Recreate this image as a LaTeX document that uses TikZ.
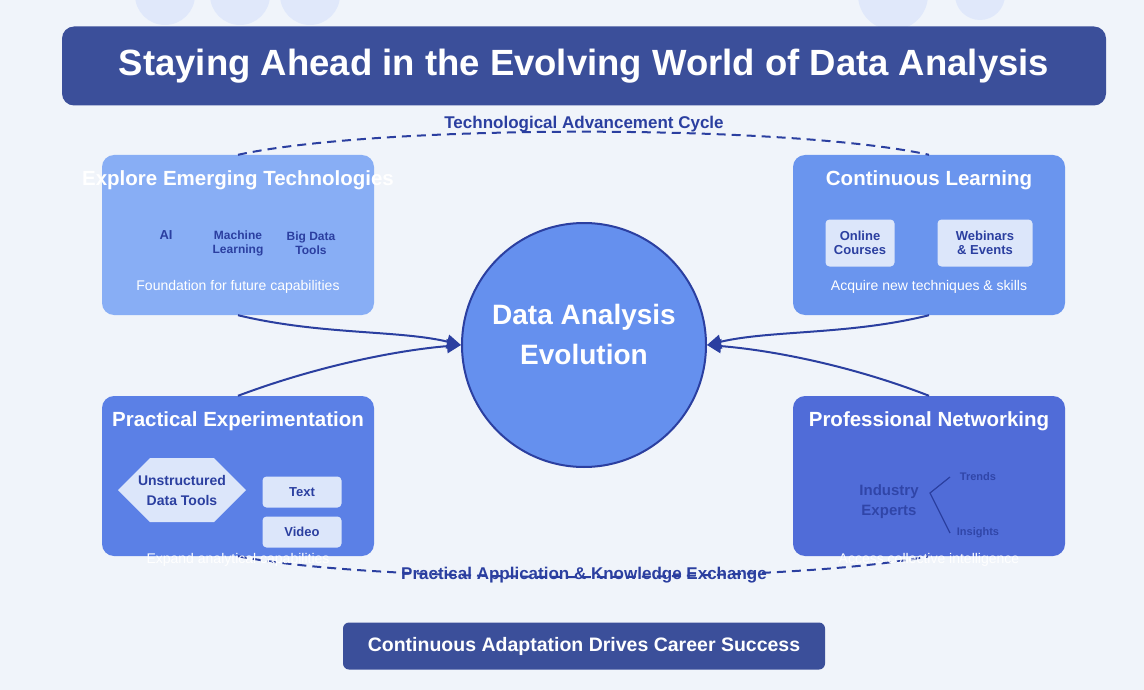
\documentclass[tikz,border=0pt]{standalone}
\usepackage{fontspec}
\setmainfont{Liberation Sans}
\usetikzlibrary{arrows.meta, positioning, shapes.geometric}
\definecolor{pagebg}{HTML}{F0F4FA}
\definecolor{navy}{HTML}{3B4F9A}
\definecolor{ink}{HTML}{2B3FA0}
\definecolor{pale}{HTML}{DCE6FA}
\definecolor{boxa}{HTML}{88AEF5}
\definecolor{boxb}{HTML}{6A95EE}
\definecolor{boxc}{HTML}{5B80E6}
\definecolor{boxd}{HTML}{506CD8}
\definecolor{core}{HTML}{6590EE}
\tikzset{
  panel/.style={rounded corners=12pt, minimum width=272pt, minimum height=160pt, inner sep=0pt},
  head/.style={text=white, font=\bfseries\fontsize{20.5}{24}\selectfont},
  foot/.style={text=white, font=\fontsize{14}{16}\selectfont},
  item/.style={text=ink, font=\bfseries\fontsize{13}{15}\selectfont, align=center},
  chip/.style={item, fill=pale, rounded corners=4pt, inner sep=0pt},
  flow/.style={draw=ink, line width=2pt, -{Triangle[length=14pt, width=14pt]}},
  cycle/.style={draw=ink, line width=2pt, dashed, dash pattern=on 9pt off 6pt}
}
\begin{document}
\begin{tikzpicture}[x=1pt, y=-1pt]
\fill[pagebg] (0,0) rectangle (1144,690);
\useasboundingbox (0,0) rectangle (1144,690);
% decorative bubbles
\foreach \cx/\r in {165/30, 240/30, 310/30, 893/35, 980/25}
  \fill[pale, opacity=0.8] (\cx,-5) circle (\r);
% title
\node[fill=navy, rounded corners=12pt, minimum width=1044pt, minimum height=79pt,
      text=white, font=\bfseries\fontsize{36.5}{42}\selectfont] (title) at (584,66)
  {Staying Ahead in the Evolving World of Data Analysis};
% panels
\node[panel, fill=boxa] (tech) at (238,235) {};
\node[panel, fill=boxb] (learn) at (929,235) {};
\node[panel, fill=boxc] (exper) at (238,476) {};
\node[panel, fill=boxd] (net) at (929,476) {};
% cycles
\draw[cycle] (tech.north) .. controls (380,124) and (788,124) .. (learn.north);
\node[text=ink, font=\bfseries\fontsize{17}{20}\selectfont] (toplbl) at (584,124) {Technological Advancement Cycle};
\draw[cycle] (exper.south) .. controls (380,584) and (788,584) .. (net.south);
% explore
\node[head] (techhd) at (238,180) {Explore Emerging Technologies};
\node[item] (ai) at (166,235) {AI};
\node[item, font=\bfseries\fontsize{12}{15}\selectfont] (ml) at (238,243) {Machine\\[-1pt]Learning};
\node[item, font=\bfseries\fontsize{12}{15}\selectfont] (bd) at (311,243) {Big Data\\[-1pt]Tools};
\node[foot] (techft) at (238,287) {Foundation for future capabilities};
% learning
\node[head] (learnhd) at (929,180) {Continuous Learning};
\node[chip, minimum width=69pt, minimum height=47pt] (online) at (860,243) {Online\\[-1pt]Courses};
\node[chip, minimum width=95pt, minimum height=47pt] (webin) at (985,243) {Webinars\\[-1pt]\& Events};
\node[foot] (learnft) at (929,287) {Acquire new techniques \& skills};
% experimentation
\node[head] (experhd) at (238,421) {Practical Experimentation};
\fill[pale] (118,490) -- (150,458) -- (214,458) -- (246,490) -- (214,522) -- (150,522) -- cycle;
\node[item, font=\bfseries\fontsize{14}{20}\selectfont] (hex) at (182,490) {Unstructured\\Data Tools};
\node[chip, minimum width=79pt, minimum height=31pt] (txt) at (302,492) {Text};
\node[chip, minimum width=79pt, minimum height=31pt] (vid) at (302,532) {Video};
\node[foot] (experft) at (238,560) {Expand analytical capabilities};
% networking
\node[head] (nethd) at (929,421) {Professional Networking};
\node[text=ink, font=\bfseries\fontsize{15}{20}\selectfont, align=center, opacity=0.85] (experts) at (889,502) {Industry\\Experts};
\coordinate (fork) at (930,493);
\node[text=ink, font=\bfseries\fontsize{11}{12}\selectfont, opacity=0.85] (trends) at (978,477) {Trends};
\node[text=ink, font=\bfseries\fontsize{11}{12}\selectfont, opacity=0.85] (insig) at (978,533) {Insights};
\draw[ink, line width=1.2pt] (950,477) -- (fork) -- (950,533);
\node[foot] (netft) at (929,560) {Access collective intelligence};
\node[text=ink, font=\bfseries\fontsize{17}{20}\selectfont] (botlbl) at (584,575) {Practical Application \& Knowledge Exchange};
% core
\node[circle, fill=core, draw=ink, line width=2pt, minimum size=244pt] (hub) at (584,345) {};
\node[text=white, font=\bfseries\fontsize{28}{40}\selectfont, align=center] (hubtx) at (584,334) {Data Analysis\\Evolution};
\draw[flow] (tech.south) .. controls (320,335) and (400,330) .. (hub.west);
\draw[flow] (learn.south) .. controls (850,335) and (770,330) .. (hub.east);
\draw[flow] (exper.north) .. controls (320,365) and (400,350) .. (hub.west);
\draw[flow] (net.north) .. controls (850,365) and (770,350) .. (hub.east);
% closing banner
\node[fill=navy, rounded corners=6pt, minimum width=482pt, minimum height=47pt,
      text=white, font=\bfseries\fontsize{19.5}{22}\selectfont] (banner) at (584,646)
  {Continuous Adaptation Drives Career Success};
\end{tikzpicture}
\end{document}
